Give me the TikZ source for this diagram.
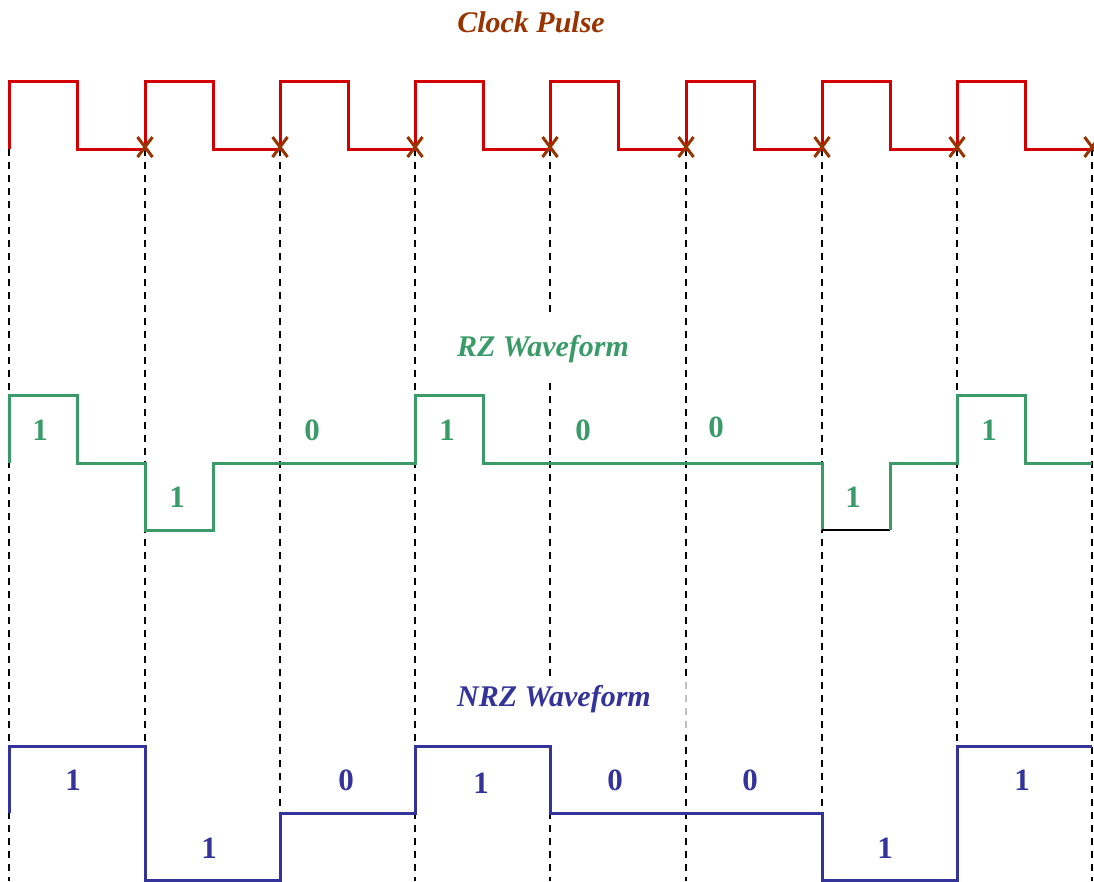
\documentclass[tikz,border=0pt]{standalone}
\usepackage{fontspec}
\setmainfont{Liberation Serif}
\definecolor{clkred}{RGB}{210,0,0}
\definecolor{brn}{RGB}{153,51,0}
\definecolor{rzgreen}{RGB}{58,155,105}
\definecolor{nrzblue}{RGB}{51,51,153}
\tikzset{
  grid/.style={black,line width=1.7pt,dash pattern=on 6.5pt off 6.5pt},
  clk/.style={clkred,line width=3pt},
  rz/.style={rzgreen,line width=3pt},
  nrz/.style={nrzblue,line width=3pt},
  xmark/.style={brn,line width=3pt},
  title/.style={font=\fontsize{30}{34}\selectfont\bfseries\itshape},
  bit/.style={font=\fontsize{31}{34}\selectfont\bfseries}
}
\begin{document}
\begin{tikzpicture}[x=1pt,y=-1pt]
\useasboundingbox (0,0) rectangle (1094,881);
% grid lines
\foreach \x in {9,145,280,415,550,686,822,957,1092} {
  \draw[grid] (\x,149) -- (\x,881);
}
% masks over grid lines
\fill[white] (540,678) rectangle (560,744);
\fill[white,opacity=0.75] (678,678) rectangle (694,735);
% titles
\node[title,text=brn] (tclk) at (531,22) {Clock Pulse};
\node[title,text=rzgreen,fill=white,minimum height=64pt,inner xsep=2pt] (trz) at (543,349) {RZ Waveform};
\node[title,text=nrzblue] (tnrz) at (554,699) {NRZ Waveform};
% clock
\draw[clk] (9,149) \foreach \x in {9,145,280,415,550,686,822,957} { -- (\x,149) -- (\x,81) -- (\x+68,81) -- (\x+68,149) } -- (1092,149);
\foreach \x in {145,280,415,550,686,822,957,1092} {
  \draw[xmark] (\x-7.5,137) -- (\x+7.5,157);
  \draw[xmark] (\x+7.5,137) -- (\x-7.5,157);
}
% RZ
\draw[rz] (9,463) -- (9,395) -- (77,395) -- (77,463) -- (145,463) -- (145,530) -- (213,530) -- (213,463)
  -- (415,463) -- (415,395) -- (483,395) -- (483,463) -- (822,463) -- (822,530);
\draw[black,line width=2pt] (822,530) -- (890,530);
\draw[rz] (890,530) -- (890,463) -- (957,463) -- (957,395) -- (1025,395) -- (1025,463) -- (1092,463);
\node[bit,text=rzgreen] (r1) at (40,430) {1};
\node[bit,text=rzgreen] (r2) at (177,497) {1};
\node[bit,text=rzgreen] (r3) at (312,430) {0};
\node[bit,text=rzgreen] (r4) at (447,430) {1};
\node[bit,text=rzgreen] (r5) at (583,430) {0};
\node[bit,text=rzgreen] (r6) at (716,427) {0};
\node[bit,text=rzgreen] (r7) at (853,497) {1};
\node[bit,text=rzgreen] (r8) at (989,430) {1};
% NRZ
\draw[nrz] (9,813) -- (9,746) -- (145,746) -- (145,880) -- (280,880) -- (280,813) -- (415,813) -- (415,746)
  -- (550,746) -- (550,813) -- (822,813) -- (822,880) -- (957,880) -- (957,746) -- (1092,746);
\node[bit,text=nrzblue] (n1) at (73,780) {1};
\node[bit,text=nrzblue] (n2) at (209,848) {1};
\node[bit,text=nrzblue] (n3) at (346,780) {0};
\node[bit,text=nrzblue] (n4) at (481,783) {1};
\node[bit,text=nrzblue] (n5) at (615,780) {0};
\node[bit,text=nrzblue] (n6) at (750,780) {0};
\node[bit,text=nrzblue] (n7) at (885,848) {1};
\node[bit,text=nrzblue] (n8) at (1022,780) {1};
\end{tikzpicture}
\end{document}
